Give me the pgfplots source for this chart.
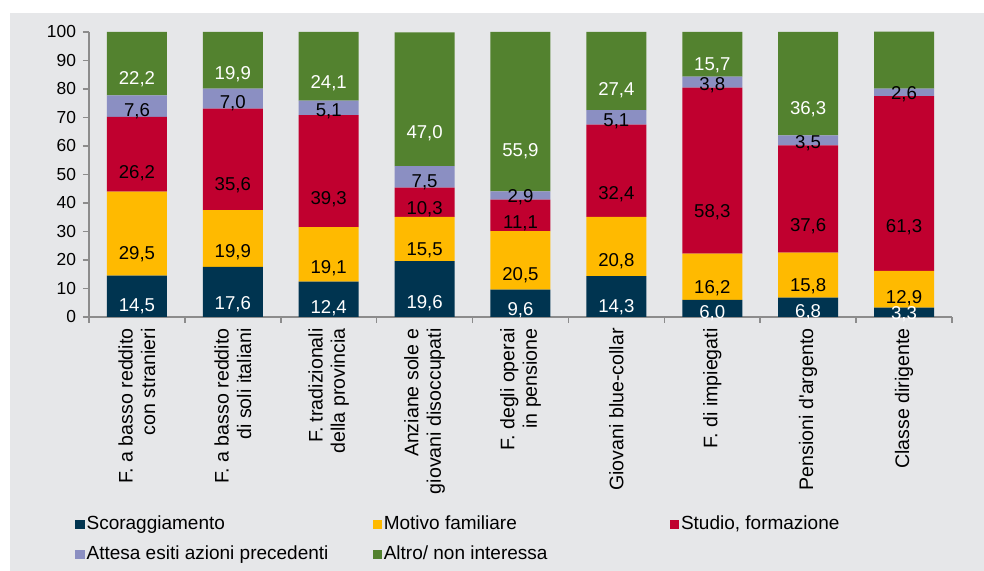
\documentclass[border=0pt]{standalone}
\usepackage{fontspec}
\setmainfont{Liberation Sans}
\usepackage{pgfplots}
\usepackage{pgfplotstable}
\pgfplotsset{compat=1.18}

\definecolor{bgcol}{HTML}{E6E7E9}
\definecolor{axgray}{HTML}{8C8C8C}
\definecolor{cNavy}{HTML}{003450}
\definecolor{cYellow}{HTML}{FFBA00}
\definecolor{cRed}{HTML}{C0002F}
\definecolor{cLav}{HTML}{8B8FC2}
\definecolor{cGreen}{HTML}{53822F}

% bottom to top: scoraggiamento, motivo familiare, studio, attesa, altro
\pgfplotstableread{
x  sc    mo    st    at   al
0  14.5  29.5  26.2  7.6  22.2
1  17.6  19.9  35.6  7.0  19.9
2  12.4  19.1  39.3  5.1  24.1
3  19.6  15.5  10.3  7.5  47.0
4  9.6   20.5  11.1  2.9  55.9
5  14.3  20.8  32.4  5.1  27.4
6  6.0   16.2  58.3  3.8  15.7
7  6.8   15.8  37.6  3.5  36.3
8  3.3   12.9  61.3  2.6  20.0
}\data

\pgfplotsset{
  seg/.style 2 args={
    fill=#1, draw=none,
    every node near coord/.append style={text=#2},
    legend image code/.code={\fill[#1] (0pt,-2.3pt) rectangle (4.6pt,2.3pt);}
  },
  % move the label from the top of the segment to its middle
  halfshift/.code={%
    \pgfkeys{/pgf/fpu=true,/pgf/fpu/output format=fixed}%
    \pgfmathparse{-0.35625*\pgfplotspointmeta}%
    \global\let\segshift\pgfmathresult
    \pgfkeys{/pgf/fpu=false}%
  },
}

\begin{document}
\begin{tikzpicture}
\fill[white] (-44.5pt,-127pt) rectangle (447.5pt,158.5pt);
\fill[bgcol] (-39.5pt,-127pt) rectangle (447.5pt,152pt);
\begin{axis}[
    scale only axis, width=431.5pt, height=142.5pt,
    ybar stacked, bar width=30pt,
    xmin=-0.5, xmax=8.5, ymin=0, ymax=100,
    enlarge x limits=false, enlarge y limits=false,
    axis lines*=left, axis line style={draw=axgray, line width=0.8pt, -},
    tick style={draw=axgray, line width=0.8pt}, tick align=outside, major tick length=3pt,
    ytick={0,10,...,100},
    yticklabel style={font=\fontsize{8.7}{10}\selectfont},
    xtick={-0.5,0.5,...,8.5}, xticklabel=\empty,
    extra x ticks={0,1,...,8},
    extra x tick style={major tick length=0pt},
    extra x tick labels={{F. a basso reddito\\con stranieri},{F. a basso reddito\\di soli italiani},{F. tradizionali\\della provincia},{Anziane sole e\\giovani disoccupati},{F. degli operai\\in pensione},{Giovani blue-collar},{F. di impiegati},{Pensioni d\textquotesingle argento},{Classe dirigente}},
    xticklabel style={rotate=90, anchor=east, align=right, inner sep=2.5pt, xshift=0pt, font=\fontsize{9.8}{11.2}\selectfont},
    xticklabel shift=3pt,
    /pgf/number format/assume math mode=true,
    point meta=explicit,
    nodes near coords={\pgfmathprintnumber[fixed,fixed zerofill,precision=1,use comma]{\pgfplotspointmeta}},
    every node near coord/.append style={/pgfplots/halfshift, anchor=center, inner sep=0pt,
      font=\fontsize{9.3}{10}\selectfont, yshift=\segshift pt},
    legend columns=3,
    legend style={at={(-0.0162,-0.69)}, anchor=north west, draw=none, fill=none, inner sep=0pt,
      nodes={inner sep=1pt}, row sep=4.5pt, font=\fontsize{9.5}{11}\selectfont},
    legend cell align=left,
]
\addplot[seg={cNavy}{white}] table[x=x, y=sc, meta=sc] {\data};
\addplot[seg={cYellow}{black}] table[x=x, y=mo, meta=mo] {\data};
\addplot[seg={cRed}{black}] table[x=x, y=st, meta=st] {\data};
\addplot[seg={cLav}{black}] table[x=x, y=at, meta=at] {\data};
\addplot[seg={cGreen}{white}] table[x=x, y=al, meta=al] {\data};
\legend{\makebox[142pt][l]{Scoraggiamento},\makebox[142pt][l]{Motivo familiare},\makebox[142pt][l]{Studio, formazione},\makebox[142pt][l]{Attesa esiti azioni precedenti},\makebox[142pt][l]{Altro/ non interessa}}
\end{axis}
\end{tikzpicture}
\end{document}
